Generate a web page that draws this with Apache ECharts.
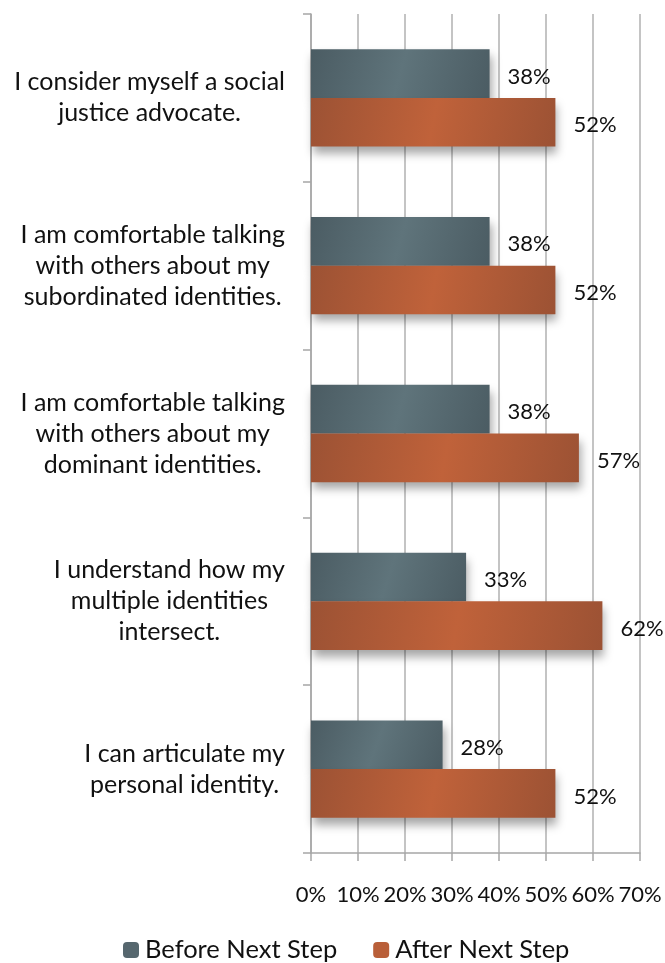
<!DOCTYPE html>
<html><head><meta charset="utf-8">
<script src="https://cdn.jsdelivr.net/npm/echarts@6/dist/echarts.min.js"></script>
<style>html,body{margin:0;padding:0;background:#fff}#c{width:665px;height:963px}</style>
</head><body><div id="c"></div>
<script>
const categories = [
  "I consider myself a social\njustice advocate.",
  "I am comfortable talking\nwith others about my\nsubordinated identities.",
  "I am comfortable talking\nwith others about my\ndominant identities.",
  "I understand how my\nmultiple identities\nintersect.",
  "I can articulate my\npersonal identity."
];
const seriesNames = ["Before Next Step", "After Next Step"];
const beforeValues = [38, 38, 38, 33, 28];
const afterValues = [52, 52, 57, 62, 52];
const xTicks = [0, 10, 20, 30, 40, 50, 60, 70];

const FONT = 'Lato';
const chart = echarts.init(document.getElementById('c'));
function grad(dark, light) {
  return new echarts.graphic.LinearGradient(0, 0, 1, 1, [
    {offset: 0, color: dark}, {offset: 0.5, color: light}, {offset: 1, color: dark}
  ]);
}
const labelCfg = {
  show: true, position: 'right', distance: 18, offset: [0, 3],
  formatter: p => p.value + '%', color: '#111', fontSize: 22, fontFamily: FONT
};
chart.setOption({
  animation: false,
  grid: {left: 311, right: 25, top: 14, bottom: 110},
  legend: {
    top: 932, left: 118, itemWidth: 16, itemHeight: 16, itemGap: 36,
    textStyle: {fontSize: 25.5, fontFamily: FONT, color: '#111', padding: [0, 0, 0, 1]},
    data: [
      {name: seriesNames[0], itemStyle: {color: '#56676e'}},
      {name: seriesNames[1], itemStyle: {color: '#b95f39'}}
    ]
  },
  xAxis: {
    type: 'value', min: 0, max: 70, interval: 10,
    axisLine: {show: true, lineStyle: {color: '#a6a6a6', width: 1.5}},
    axisTick: {show: true, length: 8, lineStyle: {color: '#a6a6a6', width: 1.5}},
    splitLine: {show: true, lineStyle: {color: '#b0b0b0', width: 1.5}},
    axisLabel: {margin: 31, fontSize: 22, fontFamily: FONT, color: '#111',
      formatter: v => xTicks.includes(v) ? v + '%' : ''}
  },
  yAxis: {
    type: 'category', inverse: true, data: categories,
    axisLine: {show: true, lineStyle: {color: '#a6a6a6', width: 1.5}},
    axisTick: {show: true, length: 8, lineStyle: {color: '#a6a6a6', width: 1.5}},
    axisLabel: {
      margin: 26, fontSize: 25, fontFamily: FONT, color: '#111', lineHeight: 31,
      formatter: v => v.split('\n').map(s => '{c|' + s + '}').join('\n'),
      rich: {c: {align: 'center', fontSize: 25, fontFamily: FONT, color: '#111', lineHeight: 31}}
    }
  },
  series: [
    {
      name: seriesNames[0], type: 'bar', data: beforeValues,
      barGap: '0%', barCategoryGap: '42%',
      itemStyle: {color: grad('#4b5c63', '#5f747b'), shadowBlur: 9, shadowOffsetY: 7, shadowOffsetX: 2, shadowColor: 'rgba(0,0,0,0.35)'},
      label: labelCfg
    },
    {
      name: seriesNames[1], type: 'bar', data: afterValues,
      barGap: '0%', barCategoryGap: '42%',
      itemStyle: {color: grad('#9c5234', '#c0623a'), shadowBlur: 9, shadowOffsetY: 7, shadowOffsetX: 2, shadowColor: 'rgba(0,0,0,0.35)'},
      label: labelCfg
    }
  ]
});
</script></body></html>
